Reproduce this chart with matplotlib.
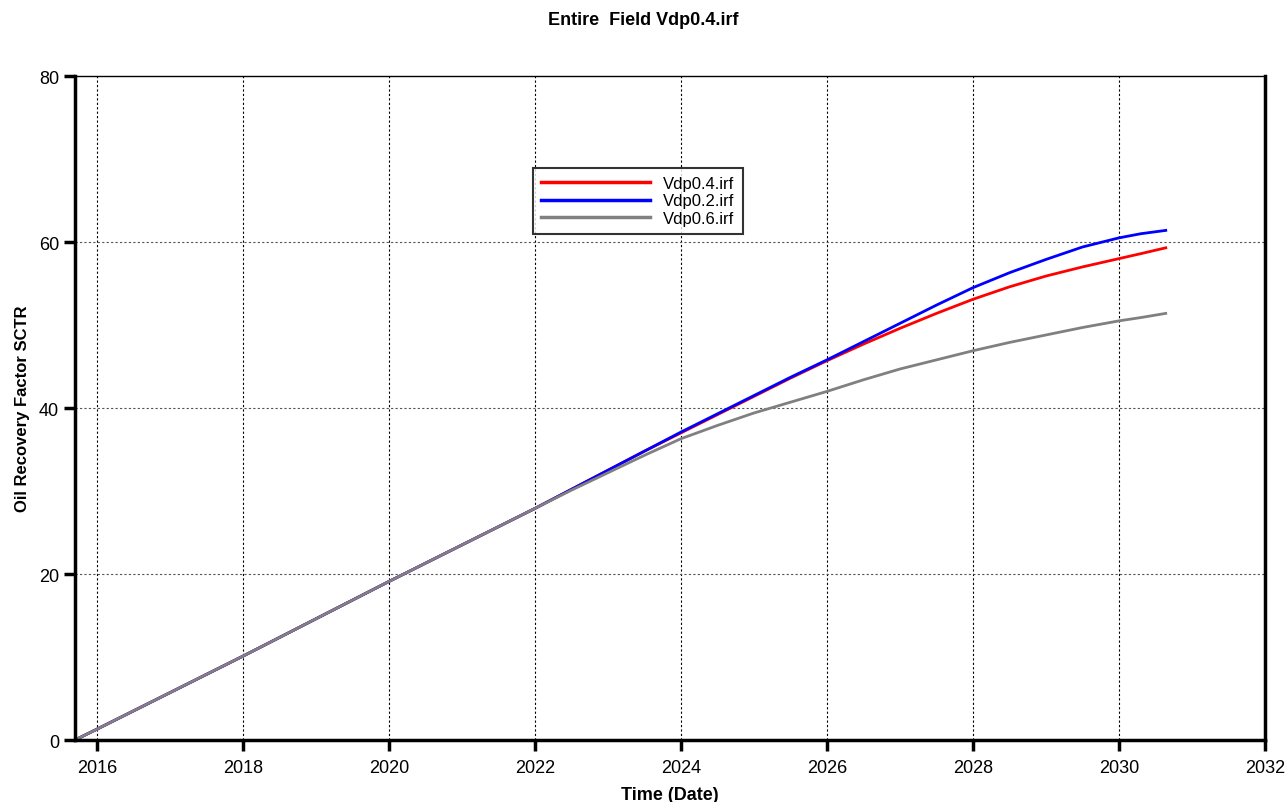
import matplotlib
matplotlib.use("Agg")
import matplotlib.pyplot as plt

plt.rcParams["font.family"] = ["Liberation Sans", "DejaVu Sans"]

# time in decimal years
years = [2015.7, 2016, 2017, 2018, 2019, 2020, 2021, 2022, 2022.5, 2023,
         2023.5, 2024, 2024.5, 2025, 2025.5, 2026, 2026.5, 2027, 2027.5,
         2028, 2028.5, 2029, 2029.5, 2030, 2030.3, 2030.64]

rf_vdp04 = [0, 1.3, 5.7, 10.1, 14.6, 19.1, 23.5, 27.9, 30.2, 32.5,
            34.8, 37.0, 39.2, 41.4, 43.6, 45.7, 47.7, 49.6, 51.4,
            53.1, 54.6, 55.9, 57.0, 58.0, 58.6, 59.3]
rf_vdp02 = [0, 1.3, 5.7, 10.1, 14.6, 19.1, 23.5, 27.9, 30.2, 32.5,
            34.8, 37.1, 39.3, 41.5, 43.7, 45.8, 48.0, 50.2, 52.4,
            54.5, 56.3, 57.9, 59.4, 60.5, 61.0, 61.4]
rf_vdp06 = [0, 1.3, 5.7, 10.1, 14.6, 19.1, 23.5, 27.9, 30.1, 32.2,
            34.3, 36.3, 37.9, 39.4, 40.7, 42.0, 43.4, 44.7, 45.8,
            46.9, 47.9, 48.8, 49.7, 50.5, 50.9, 51.4]

series_names = ["Vdp0.4.irf", "Vdp0.2.irf", "Vdp0.6.irf"]
x_ticks = [2016, 2018, 2020, 2022, 2024, 2026, 2028, 2030, 2032]
y_ticks = [0, 20, 40, 60, 80]

fig = plt.figure(figsize=(12.86, 8.03), dpi=100)
ax = fig.add_axes([0.0583, 0.0772, 0.9254, 0.8269])

ax.plot(years, rf_vdp04, color="red", lw=2, label=series_names[0])
ax.plot(years, rf_vdp02, color="blue", lw=2, label=series_names[1])
ax.plot(years, rf_vdp06, color="#808080", lw=2, label=series_names[2])

ax.set_xlim(2015.7, 2032)
ax.set_ylim(0, 80)
ax.set_xticks(x_ticks)
ax.set_yticks(y_ticks)
ax.tick_params(axis="both", labelsize=13, length=8, width=2.5, direction="out")
ax.tick_params(axis="x", pad=6)

for x in x_ticks[:-1]:
    ax.axvline(x, color="black", lw=0.8, ls=(0, (2, 2)), zorder=0)
for y in y_ticks[1:-1]:
    ax.axhline(y, color="#555555", lw=0.8, ls=(0, (2, 2)), zorder=0)

for side in ["left", "bottom", "right"]:
    ax.spines[side].set_linewidth(2.5)
ax.spines["top"].set_linewidth(1)

ax.set_xlabel("Time (Date)", fontsize=13, fontweight="bold", labelpad=7)
ax.set_ylabel("Oil Recovery Factor SCTR", fontsize=12, fontweight="bold", labelpad=6)
fig.suptitle("Entire  Field Vdp0.4.irf", fontsize=13, fontweight="bold", y=0.985)

leg = ax.legend(loc="upper left", bbox_to_anchor=(0.385, 0.862), fontsize=12,
                frameon=True, fancybox=False, handlelength=6.5, borderaxespad=0,
                labelspacing=0.15, handletextpad=0.8, borderpad=0.5)
leg.get_frame().set_edgecolor("black")
leg.get_frame().set_linewidth(1.5)
for line in leg.get_lines():
    line.set_linewidth(2.5)

fig.savefig("out.png", dpi=100)
